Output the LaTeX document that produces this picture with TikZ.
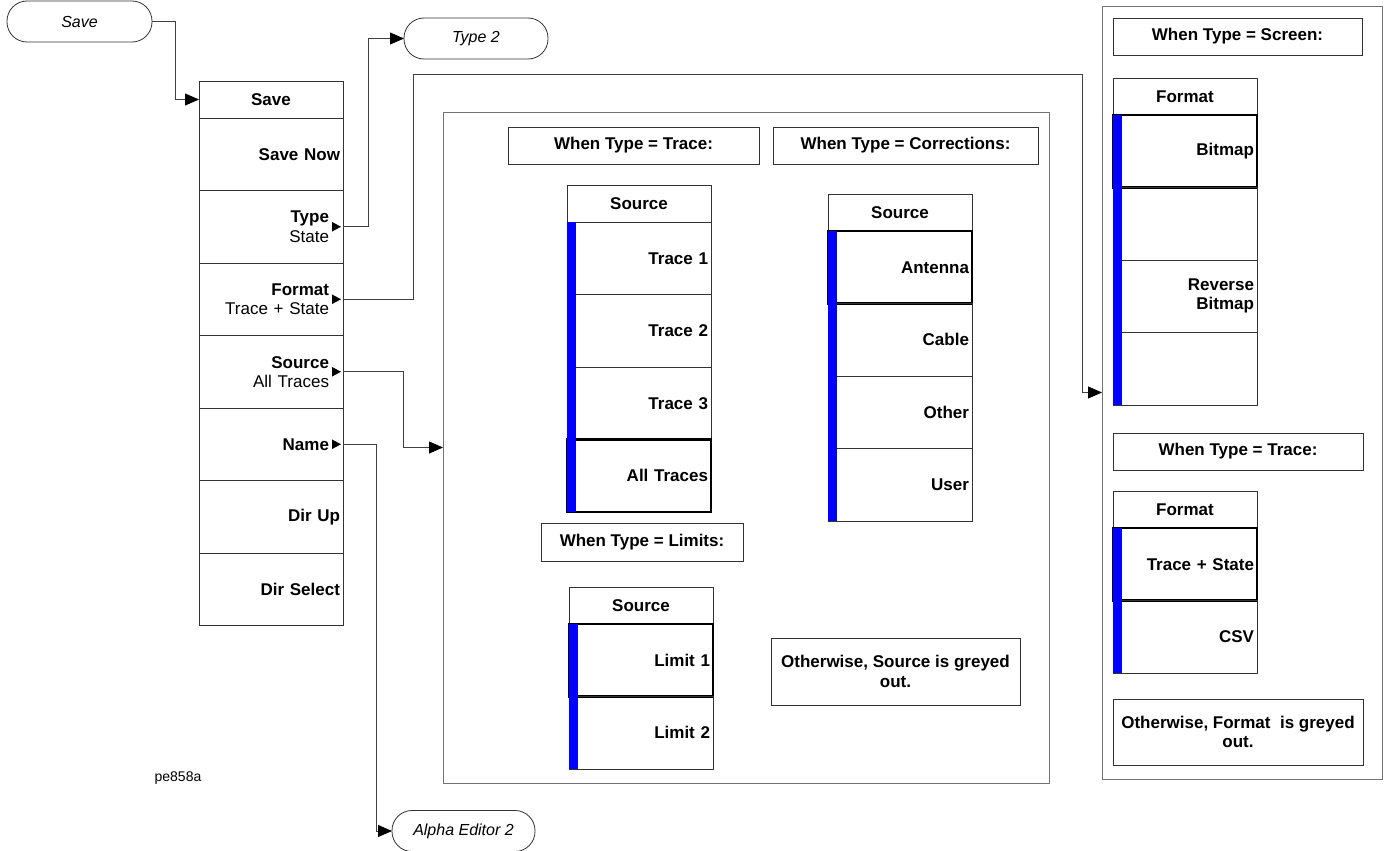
\documentclass[tikz,border=0pt]{standalone}
\usepackage{fontspec}
\setmainfont{Liberation Sans}
\usepackage{tikz}
\usetikzlibrary{positioning,arrows.meta}
\newcommand{\keyfont}{\fontsize{8.5}{9.6}\selectfont}
\tikzset{
    frame-box/.style = {draw=black!55, thin, rectangle, anchor=north west, inner sep=0pt, outer sep=0pt},
    note-box/.style = {draw=black!80, thin, rectangle, anchor=north west, inner sep=0pt, outer sep=0pt, align=center, font=\keyfont\bfseries},
    menu-head/.style = {draw=black!80, thin, rectangle, anchor=north west, minimum width=72pt, minimum height=18.5pt, inner sep=0pt, outer sep=0pt, font=\keyfont\bfseries},
    menu-key/.style = {draw=black!80, thin, rectangle, minimum width=72pt, minimum height=36.25pt, text width=69pt, inner xsep=1.5pt, inner ysep=0pt, outer sep=0pt, align=right, font=\keyfont\bfseries},
    more-key/.style = {menu-key, text width=58pt, inner xsep=7pt},
    picked-key/.style = {menu-key, draw=black, line width=1.3pt},
    soft-key/.style = {draw=black!80, thin, rectangle, rounded corners=10pt, minimum width=72pt, minimum height=20.5pt, inner sep=0pt, outer sep=0pt, font=\fontsize{8}{9.6}\selectfont\itshape},
    link/.style = {draw=black!75, thin, -{Triangle[length=7pt,width=6pt,color=black]}},
    more-tip/.style = {fill=black},
}

\begin{document}
\begin{tikzpicture}[x=0.5pt, y=-0.5pt]
\useasboundingbox (0,0) rectangle (1388,851);

% frames
\node[frame-box, minimum width=303pt, minimum height=335.5pt] (source-frame) at (443,112) {};
\node[frame-box, minimum width=140pt, minimum height=386.5pt] (screen-frame) at (1102,6) {};

% soft keys
\node[soft-key, minimum width=72.5pt] (save-key) at (79.5,21.5) {Save};
\node[soft-key] (type-two) at (476,38.5) {Type 2};
\node[soft-key, minimum width=71.5pt] (alpha-key) at (463.5,831) {Alpha Editor 2};
\node[font=\fontsize{7}{8}\selectfont] (fig-id) at (178,778) {pe858a};

% save menu
\node[menu-head] (save-head) at (199,81) {Save};
\node[menu-key, below=0pt of save-head] (save-now) {Save Now};
\node[more-key, below=0pt of save-now] (type-key) {Type\\{\mdseries State}};
\node[more-key, below=0pt of type-key] (format-key) {Format\\{\mdseries Trace + State}};
\node[more-key, below=0pt of format-key] (source-key) {Source\\{\mdseries All Traces}};
\node[more-key, below=0pt of source-key] (name-key) {Name};
\node[menu-key, below=0pt of name-key] (dir-up) {Dir Up};
\node[menu-key, below=0pt of dir-up] (dir-select) {Dir Select};
\fill[more-tip] ([xshift=-1pt]type-key.east) -- ++(-4.5pt,2.4pt) -- ++(0,-4.8pt) -- cycle;
\fill[more-tip] ([xshift=-1pt]format-key.east) -- ++(-4.5pt,2.4pt) -- ++(0,-4.8pt) -- cycle;
\fill[more-tip] ([xshift=-1pt]source-key.east) -- ++(-4.5pt,2.4pt) -- ++(0,-4.8pt) -- cycle;
\fill[more-tip] ([xshift=-1pt]name-key.east) -- ++(-4.5pt,2.4pt) -- ++(0,-4.8pt) -- cycle;

% source panel
\node[note-box, minimum width=125.5pt, minimum height=18.5pt] (when-trace) at (508,127) {When Type = Trace:};
\node[note-box, minimum width=132.5pt, minimum height=18.5pt] (when-corr) at (773,127) {When Type = Corrections:};
\node[note-box, minimum width=101pt, minimum height=19pt] (when-limits) at (541,523) {When Type = Limits:};
\node[note-box, minimum width=124.5pt, minimum height=33.5pt] (source-grey) at (771,638) {Otherwise, Source is greyed\\out.};

\node[menu-head] (trace-head) at (567,185) {Source};
\node[menu-key, below=0pt of trace-head] (trace-one) {Trace 1};
\node[menu-key, below=0pt of trace-one] (trace-two) {Trace 2};
\node[menu-key, below=0pt of trace-two] (trace-three) {Trace 3};
\node[picked-key, below=0pt of trace-three] (all-traces) {All Traces};
\fill[blue] (trace-one.north west) rectangle ([xshift=4.5pt]all-traces.south west);

\node[menu-head] (corr-head) at (828,194) {Source};
\node[picked-key, below=0pt of corr-head] (antenna) {Antenna};
\node[menu-key, below=0pt of antenna] (cable) {Cable};
\node[menu-key, below=0pt of cable] (other) {Other};
\node[menu-key, below=0pt of other] (user) {User};
\fill[blue] (antenna.north west) rectangle ([xshift=4.5pt]user.south west);

\node[menu-head] (limit-head) at (569,587) {Source};
\node[picked-key, below=0pt of limit-head] (limit-one) {Limit 1};
\node[menu-key, below=0pt of limit-one] (limit-two) {Limit 2};
\fill[blue] (limit-one.north west) rectangle ([xshift=4.5pt]limit-two.south west);

% format panel
\node[note-box, minimum width=124.5pt, minimum height=18.5pt] (when-screen) at (1113,18) {When Type = Screen:};
\node[note-box, minimum width=125pt, minimum height=18.5pt] (when-trace-fmt) at (1113,433) {When Type = Trace:};
\node[note-box, minimum width=125pt, minimum height=33pt] (format-grey) at (1113,699) {Otherwise, Format\ \ is greyed\\out.};

\node[menu-head] (screen-head) at (1113,78) {Format};
\node[picked-key, below=0pt of screen-head] (bitmap) {Bitmap};
\node[menu-key, below=0pt of bitmap] (screen-gap-one) {};
\node[menu-key, below=0pt of screen-gap-one] (rev-bitmap) {Reverse\\Bitmap};
\node[menu-key, below=0pt of rev-bitmap] (screen-gap-two) {};
\fill[blue] (bitmap.north west) rectangle ([xshift=4.5pt]screen-gap-two.south west);

\node[menu-head] (fmt-head) at (1113,491) {Format};
\node[picked-key, below=0pt of fmt-head] (trace-state) {Trace + State};
\node[menu-key, below=0pt of trace-state] (csv) {CSV};
\fill[blue] (trace-state.north west) rectangle ([xshift=4.5pt]csv.south west);

% connectors
\coordinate (format-bend) at (1082,74);
\draw[link] (save-key.east) -- ++(23,0) |- (save-head.west);
\draw[link] (type-key.east) -- ++(25,0) |- (type-two.west);
\draw[link] (format-key.east) -- ++(70,0) |- (format-bend) |- (screen-frame.west);
\draw[link] (source-key.east) -- ++(60,0) |- (source-frame.west);
\draw[link] (name-key.east) -- ++(33,0) |- (alpha-key.west);
\end{tikzpicture}
\end{document}
